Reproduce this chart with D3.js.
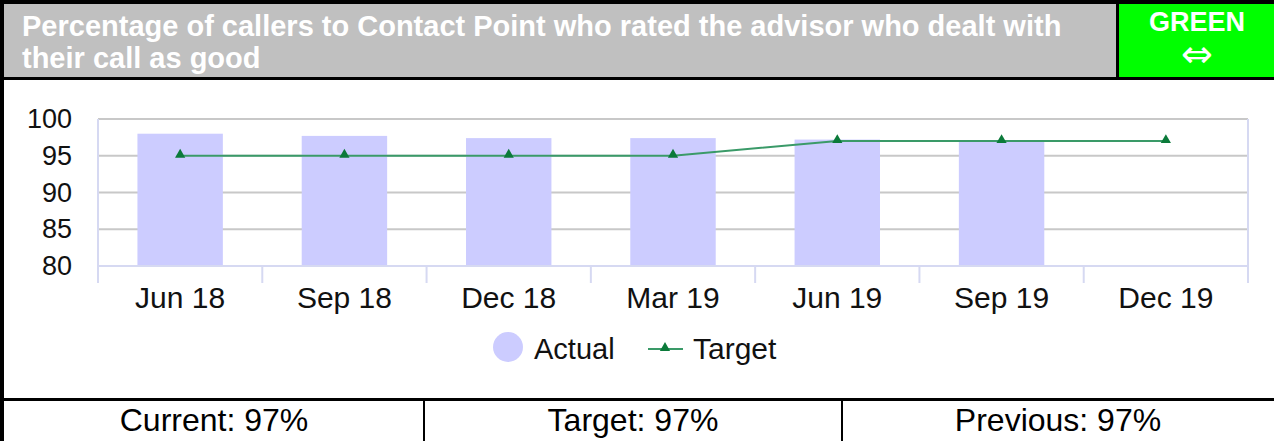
<!DOCTYPE html>
<html>
<head>
  <meta charset="utf-8">
  <title>Callers rating advisor as good</title>
  <style>
    body { margin: 0; background: #fff; }
    svg { display: block; font-family: Arial, "Liberation Sans", sans-serif; }
    .grid line { stroke: #c8c8c8; stroke-width: 2px; }
    .frame { stroke: #d6d9f2; stroke-width: 2px; fill: none; }
  </style>
  <script src="https://d3js.org/d3.v7.min.js"></script>
</head>
<body>
  <script>
    // data
    var categories = ["Jun 18", "Sep 18", "Dec 18", "Mar 19", "Jun 19", "Sep 19", "Dec 19"];
    var actual = [98, 97.7, 97.4, 97.4, 97.2, 97, null];
    var target = [95, 95, 95, 95, 97, 97, 97];
    var yTicks = [80, 85, 90, 95, 100];
    var titleLines = ["Percentage of callers to Contact Point who rated the advisor who dealt with", "their call as good"];
    var statusLabel = "GREEN";
    var footer = ["Current: 97%", "Target: 97%", "Previous: 97%"];

    var width = 1274, height = 441;
    var svg = d3.select("body").append("svg")
      .attr("width", width)
      .attr("height", height);

    svg.append("rect").attr("width", width).attr("height", height).attr("fill", "#fff");

    // header
    svg.append("rect").attr("x", 0).attr("y", 0).attr("width", 1118).attr("height", 79).attr("fill", "#c0c0c0");
    svg.append("rect").attr("x", 1118).attr("y", 0).attr("width", width - 1118).attr("height", 79).attr("fill", "#00ff00");

    svg.append("text")
      .attr("fill", "#fff")
      .style("font-weight", "bold")
      .style("font-size", "29px")
      .selectAll("tspan")
      .data(titleLines)
      .enter().append("tspan")
        .attr("x", 22)
        .attr("y", (d, i) => 36 + i * 32)
        .text(d => d);

    svg.append("text")
      .attr("x", 1197).attr("y", 31)
      .attr("text-anchor", "middle")
      .attr("fill", "#fff")
      .style("font-weight", "bold")
      .style("font-size", "27px")
      .text(statusLabel);

    svg.append("text")
      .attr("x", 1197).attr("y", 67)
      .attr("text-anchor", "middle")
      .attr("fill", "#fff")
      .style("font-family", "'DejaVu Sans'")
      .style("font-size", "38px")
      .text("\u21D4");

    // black borders
    var black = "#000";
    svg.append("rect").attr("x", 0).attr("y", 0).attr("width", width).attr("height", 4).attr("fill", black);
    svg.append("rect").attr("x", 0).attr("y", 0).attr("width", 4).attr("height", height).attr("fill", black);
    svg.append("rect").attr("x", 0).attr("y", 77).attr("width", width).attr("height", 3).attr("fill", black);
    svg.append("rect").attr("x", 1116).attr("y", 0).attr("width", 3).attr("height", 79).attr("fill", black);
    svg.append("rect").attr("x", 0).attr("y", 398).attr("width", width).attr("height", 3).attr("fill", black);
    svg.append("rect").attr("x", 423).attr("y", 398).attr("width", 2).attr("height", height - 398).attr("fill", black);
    svg.append("rect").attr("x", 841).attr("y", 398).attr("width", 2).attr("height", height - 398).attr("fill", black);

    // footer cells
    var cellCenters = [214, 633, 1058];
    svg.selectAll(".foot")
      .data(footer)
      .enter().append("text")
        .attr("class", "foot")
        .attr("x", (d, i) => cellCenters[i])
        .attr("y", 431)
        .attr("text-anchor", "middle")
        .attr("fill", "#000")
        .style("font-size", "32px")
        .text(d => d);

    // chart
    var pLeft = 98, pRight = 1248, pTop = 119, pBottom = 266;
    var x = d3.scaleBand().domain(categories).range([pLeft, pRight]).padding(0);
    var y = d3.scaleLinear().domain([80, 100]).range([pBottom, pTop]);

    var grid = svg.append("g").attr("class", "grid");
    grid.selectAll("line")
      .data(yTicks.filter(d => d > 80))
      .enter().append("line")
        .attr("x1", pLeft).attr("x2", pRight)
        .attr("y1", d => y(d)).attr("y2", d => y(d));

    svg.append("g")
      .selectAll("text")
      .data(yTicks)
      .enter().append("text")
        .attr("x", 72)
        .attr("y", d => y(d) + 9)
        .attr("text-anchor", "end")
        .attr("fill", "#111")
        .style("font-size", "27px")
        .text(d => d);

    var barW = x.bandwidth() * 0.52;
    svg.append("g")
      .selectAll("rect")
      .data(categories.map((c, i) => ({ c: c, v: actual[i] })).filter(d => d.v != null))
      .enter().append("rect")
        .attr("x", d => x(d.c) + (x.bandwidth() - barW) / 2)
        .attr("y", d => y(d.v))
        .attr("width", barW)
        .attr("height", d => y(80) - y(d.v))
        .attr("fill", "#ccccff");

    // axis frame
    svg.append("line").attr("class", "frame")
      .attr("x1", pLeft).attr("x2", pRight).attr("y1", pBottom).attr("y2", pBottom);
    svg.append("g")
      .selectAll("line")
      .data(d3.range(categories.length + 1))
      .enter().append("line")
        .attr("class", "frame")
        .attr("x1", i => pLeft + i * x.step()).attr("x2", i => pLeft + i * x.step())
        .attr("y1", i => (i === 0 || i === categories.length) ? pTop : pBottom)
        .attr("y2", pBottom + 17);

    svg.append("g")
      .selectAll("text")
      .data(categories)
      .enter().append("text")
        .attr("x", d => x(d) + x.bandwidth() / 2)
        .attr("y", 308)
        .attr("text-anchor", "middle")
        .attr("fill", "#111")
        .style("font-size", "30px")
        .text(d => d);

    // target line
    var lineColor = "#3a9a68", markColor = "#0b7a3a";
    var line = d3.line()
      .x((d, i) => x(categories[i]) + x.bandwidth() / 2)
      .y(d => y(d));
    svg.append("path")
      .datum(target)
      .attr("d", line)
      .attr("fill", "none")
      .attr("stroke", lineColor)
      .attr("stroke-width", 2);

    var tri = d3.symbol().type(d3.symbolTriangle).size(45);
    svg.append("g")
      .selectAll("path")
      .data(target)
      .enter().append("path")
        .attr("d", tri)
        .attr("transform", (d, i) => "translate(" + (x(categories[i]) + x.bandwidth() / 2) + "," + (y(d) - 1) + ")")
        .attr("fill", markColor);

    // legend
    var lg = svg.append("g");
    lg.append("circle").attr("cx", 508).attr("cy", 347).attr("r", 15).attr("fill", "#ccccff");
    lg.append("text").attr("x", 534).attr("y", 359).attr("fill", "#111").style("font-size", "29px").text("Actual");
    lg.append("line").attr("x1", 648).attr("x2", 683).attr("y1", 349).attr("y2", 349)
      .attr("stroke", lineColor).attr("stroke-width", 2);
    lg.append("path").attr("d", tri).attr("transform", "translate(665,348)").attr("fill", markColor);
    lg.append("text").attr("x", 693).attr("y", 359).attr("fill", "#111").style("font-size", "30px").text("Target");
  </script>
</body>
</html>
